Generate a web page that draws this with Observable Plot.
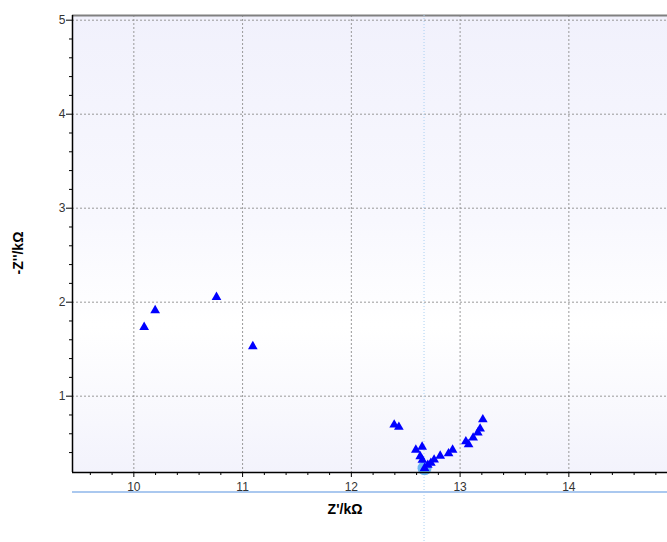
<!DOCTYPE html>
<html>
<head>
<meta charset="utf-8">
<script src="https://cdn.jsdelivr.net/npm/d3@7"></script>
<script src="https://cdn.jsdelivr.net/npm/@observablehq/plot@0.6"></script>
<style>
  body { margin: 0; background: #ffffff; }
  #chart svg { display: block; }
</style>
</head>
<body>
<div id="chart"></div>
<script>
// Z' (kΩ) and -Z'' (kΩ)
const zReal = [10.095, 10.196, 10.76, 11.094,
  12.394, 12.437, 12.593, 12.651, 12.633, 12.653, 12.673, 12.703, 12.731, 12.761,
  12.817, 12.894, 12.931, 13.053, 13.078, 13.120, 13.163, 13.184, 13.209];
const zImag = [1.734, 1.912, 2.053, 1.529,
  0.696, 0.672, 0.428, 0.460, 0.359, 0.321, 0.234, 0.268, 0.289, 0.323,
  0.364, 0.390, 0.428, 0.518, 0.486, 0.557, 0.611, 0.653, 0.752];
const selectedIndex = 10;
const xTicks = [10, 11, 12, 13, 14];
const yTicks = [1, 2, 3, 4, 5];
const xDomain = [9.436, 14.907];
const yDomain = [0.188, 5.05];
const xLabel = "Z'/kΩ";
const yLabel = "-Z''/kΩ";

const data = zReal.map((x, i) => ({x, y: zImag[i]}));
const selected = [data[selectedIndex]];
const minorX = d3.range(9.6, 14.9, 0.2).filter(v => Math.abs(v - Math.round(v)) > 1e-6);
const minorY = d3.range(0.4, 5.0, 0.2).filter(v => Math.abs(v - Math.round(v)) > 1e-6);

const font = "'Liberation Sans', Arial, sans-serif";

function background(index, scales, values, dims) {
  const g = d3.create("svg:g");
  const defs = g.append("defs");
  const lg = defs.append("linearGradient").attr("id", "bgGrad")
    .attr("x1", 0).attr("y1", 0).attr("x2", 0).attr("y2", 1);
  lg.append("stop").attr("offset", "0%").attr("stop-color", "#f1f1fc");
  lg.append("stop").attr("offset", "45%").attr("stop-color", "#f8f8fe");
  lg.append("stop").attr("offset", "68%").attr("stop-color", "#ffffff");
  lg.append("stop").attr("offset", "100%").attr("stop-color", "#f3f3fc");
  g.append("rect")
    .attr("x", dims.marginLeft).attr("y", dims.marginTop)
    .attr("width", dims.width - dims.marginLeft - dims.marginRight)
    .attr("height", dims.height - dims.marginTop - dims.marginBottom)
    .attr("fill", "url(#bgGrad)");
  return g.node();
}

function overlay(index, scales, values, dims) {
  const g = d3.create("svg:g");
  const bottom = dims.height - dims.marginBottom;
  const cx = scales.x(zReal[selectedIndex]);
  g.append("line")
    .attr("x1", cx).attr("x2", cx)
    .attr("y1", dims.marginTop).attr("y2", dims.height)
    .attr("stroke", "#a9d0f3").attr("stroke-width", 1)
    .attr("stroke-dasharray", "1,2");
  g.append("line")
    .attr("x1", dims.marginLeft).attr("x2", dims.width)
    .attr("y1", bottom + 20).attr("y2", bottom + 20)
    .attr("stroke", "#aac8ef").attr("stroke-width", 2);
  g.append("text")
    .attr("x", 345).attr("y", bottom + 42)
    .attr("text-anchor", "middle")
    .attr("font-family", font).attr("font-weight", "bold").attr("font-size", 14)
    .attr("fill", "#000").text(xLabel);
  g.append("text")
    .attr("transform", `translate(23, ${253}) rotate(-90)`)
    .attr("text-anchor", "middle")
    .attr("font-family", font).attr("font-weight", "bold").attr("font-size", 14)
    .attr("fill", "#000").text(yLabel);
  return g.node();
}

const chart = Plot.plot({
  width: 667,
  height: 542,
  marginLeft: 72,
  marginRight: 0,
  marginTop: 15,
  marginBottom: 70,
  style: {fontFamily: font, fontSize: "12px", color: "#000", background: "#fff"},
  x: {domain: xDomain},
  y: {domain: yDomain},
  marks: [
    background,
    Plot.gridX(xTicks, {stroke: "#999", strokeOpacity: 1, strokeDasharray: "2,2"}),
    Plot.gridY(yTicks, {stroke: "#999", strokeOpacity: 1, strokeDasharray: "2,2"}),
    Plot.ruleY([yDomain[1]], {stroke: "#808080", strokeWidth: 2}),
    overlay,
    Plot.dot(selected, {x: "x", y: "y", r: 7, fill: "#6cb6f2", stroke: "none"}),
    Plot.dot(data, {x: "x", y: "y", symbol: "triangle", r: 3.6, fill: "#0000ff", stroke: "none"}),
    Plot.axisX(minorX, {tickSize: 3, tickFormat: () => "", label: null}),
    Plot.axisY(minorY, {tickSize: 3, tickFormat: () => "", label: null}),
    Plot.axisX(xTicks, {tickSize: 5, tickPadding: 5, fontSize: 12, label: null, fill: "#333", tickFormat: d3.format("d")}),
    Plot.axisY(yTicks, {tickSize: 6, tickPadding: 1, fontSize: 12, label: null, fill: "#333", tickFormat: d3.format("d")}),
    Plot.ruleX([xDomain[0]], {stroke: "#000", strokeWidth: 1.5}),
    Plot.ruleY([yDomain[0]], {stroke: "#000", strokeWidth: 1.5})
  ]
});
document.getElementById("chart").appendChild(chart);
</script>
</body>
</html>
